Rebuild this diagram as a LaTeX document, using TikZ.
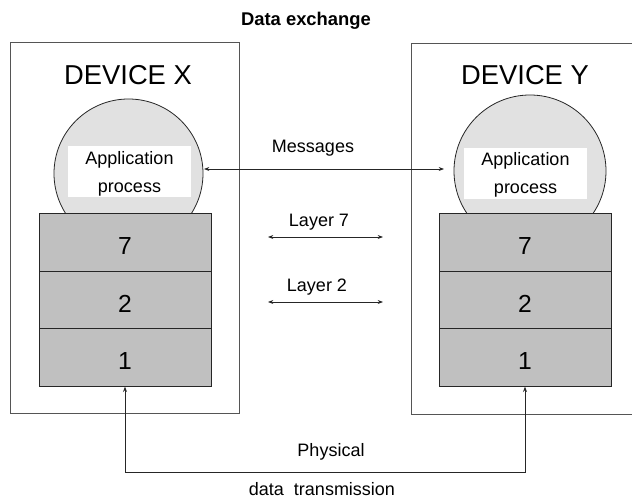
\documentclass[tikz,border=0pt]{standalone}
\usepackage{fontspec}
\setmainfont{Liberation Sans}
\usetikzlibrary{arrows.meta}
\definecolor{layergray}{HTML}{C0C0C0}
\definecolor{bubblegray}{HTML}{E1E1E1}
\definecolor{framegray}{HTML}{555555}
\begin{document}
\begin{tikzpicture}[x=0.75pt,y=-0.75pt,
  devframe/.style={draw=framegray,line width=0.7pt},
  layerbox/.style={draw=black!85,line width=0.7pt,fill=layergray,
    minimum width=129pt,minimum height=43pt,inner sep=0pt,
    text height=18.5pt,text depth=0pt,
    font=\fontsize{18.5}{20}\selectfont},
  bubble/.style={circle,draw=black!85,line width=0.6pt,fill=bubblegray,inner sep=0pt},
  appbox/.style={fill=white,minimum width=92.25pt,minimum height=38pt,inner sep=0pt},
  apptext/.style={align=center,inner sep=0pt,font=\fontsize{13.5}{21}\selectfont},
  devtitle/.style={font=\fontsize{20.5}{24}\selectfont},
  lbl/.style={font=\fontsize{13.5}{16}\selectfont},
  link/.style={line width=0.6pt,draw=black!85,{Stealth[length=4pt,width=3pt]}-{Stealth[length=4pt,width=3pt]}}
]
\useasboundingbox (0,0) rectangle (632,502);

% device frames
\node[devframe,rectangle,minimum width=171.75pt,minimum height=278.25pt,inner sep=0pt]
  (devX) at (124.5,228) {};
\draw[devframe] (632,43) -- (411,43) -- (411,414) -- (632,414);
\coordinate (devY) at (525,228);

\node[devtitle] (titleX) at (128,75) {DEVICE X};
\node[devtitle] (titleY) at (525,75) {DEVICE Y};

% application processes
\node[bubble,minimum size=111.75pt] (appX) at (128.5,173.5) {};
\node[bubble,minimum size=114pt] (appY) at (530,171) {};
\node[appbox] (boxX) at (129.5,171.5) {};
\node[appbox] (boxY) at (525.5,173.5) {};
\node[apptext] (txtX) at (129.5,173.5) {Application\\process};
\node[apptext] (txtY) at (525.5,175) {Application\\process};

% layer stacks
\node[layerbox] (l7X) at (125,242.5) {7};
\node[layerbox] (l2X) at (125,300) {2};
\node[layerbox] (l1X) at (125,357.5) {1};
\node[layerbox] (l7Y) at (525,242.5) {7};
\node[layerbox] (l2Y) at (525,300) {2};
\node[layerbox] (l1Y) at (525,357.5) {1};

% title
\node[font=\bfseries\fontsize{13.8}{16}\selectfont] (title) at (306,21) {Data exchange};

% message exchange between the application processes
\coordinate (msgA) at (204,169);
\coordinate (msgB) at (444,169);
\draw[link] (msgA) -- (msgB);
\node[lbl] (msgLbl) at (313,148) {Messages};

% peer layer exchange
\coordinate (l7a) at (268,237);
\coordinate (l7b) at (383,237);
\draw[link] (l7a) -- (l7b);
\node[lbl] (l7Lbl) at (319,222) {Layer 7};

\coordinate (l2a) at (268,302);
\coordinate (l2b) at (383,302);
\draw[link] (l2a) -- (l2b);
\node[lbl] (l2Lbl) at (317,287) {Layer 2};

% physical link
\coordinate (phyLine) at (0,472);
\draw[link] (l1X.south) -- (l1X.south |- phyLine) -| (l1Y.south);
\node[lbl] (phyLbl) at (331,452) {Physical};
\node[lbl] (dtLbl) at (322,489) {data\ \ transmission};
\end{tikzpicture}
\end{document}
